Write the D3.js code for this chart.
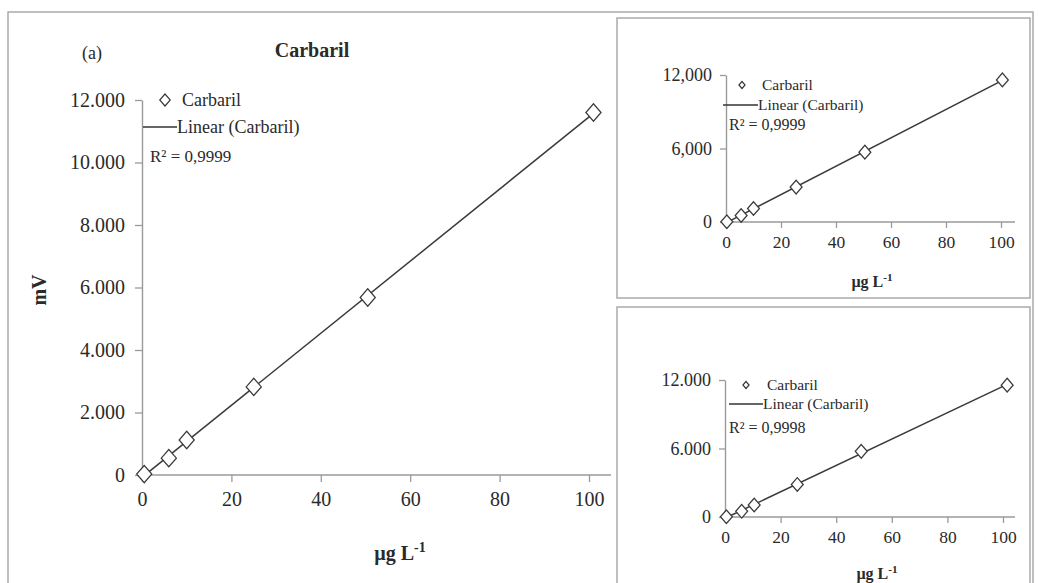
<!DOCTYPE html>
<html>
<head>
<meta charset="utf-8">
<script src="https://cdn.jsdelivr.net/npm/d3@7"></script>
<style>
  body { margin: 0; background: #fff; }
  svg text { font-family: "Liberation Serif", "Times New Roman", serif; fill: #2a2a2a; }
</style>
</head>
<body>
<script>
var width = 1038,
    height = 583;

// ===== data =====
var concA = [0.5, 6, 10, 25, 50.5, 101];
var mvA = [30, 540, 1120, 2820, 5680, 11600];

var concB = [0.3, 5.5, 10, 25.5, 50.5, 100.5];
var mvB = [20, 530, 1100, 2850, 5700, 11600];

var concC = [0.5, 6, 10.5, 26, 49, 101.5];
var mvC = [20, 500, 1050, 2850, 5750, 11550];

var xTicks = [0, 20, 40, 60, 80, 100];
var yTicksMain = [0, 2000, 4000, 6000, 8000, 10000, 12000];
var yTicksSmall = [0, 6000, 12000];
var r2Labels = ["R² = 0,9999", "R² = 0,9999", "R² = 0,9998"];

var svg = d3.select("body").append("svg")
    .attr("width", width)
    .attr("height", height)
    .attr("font-family", "Liberation Serif");

// frames
svg.append("rect").attr("x", 8).attr("y", 12).attr("width", 1025).attr("height", 580)
    .attr("fill", "none").attr("stroke", "#aaa").attr("stroke-width", 1.5);
svg.append("rect").attr("x", 617).attr("y", 18).attr("width", 413).attr("height", 280)
    .attr("fill", "none").attr("stroke", "#aaa").attr("stroke-width", 1.5);
svg.append("rect").attr("x", 617).attr("y", 307).attr("width", 413).attr("height", 285)
    .attr("fill", "none").attr("stroke", "#aaa").attr("stroke-width", 1.5);

function fit(xs, ys) {
  var mx = d3.mean(xs), my = d3.mean(ys);
  var sxy = d3.sum(xs, function(x, i) { return (x - mx) * (ys[i] - my); });
  var sxx = d3.sum(xs, function(x) { return (x - mx) * (x - mx); });
  var b = sxy / sxx;
  return { slope: b, icpt: my - b * mx };
}

function panel(o) {
  var x = d3.scaleLinear().domain([0, 100]).range([o.x0, o.x1]);
  var y = d3.scaleLinear().domain([0, 12000]).range([o.y0, o.y1]);
  var g = svg.append("g");

  var xAxis = g.append("g").attr("transform", "translate(0," + o.y0 + ")")
      .call(d3.axisBottom(x).tickValues(xTicks).tickSize(o.tick).tickPadding(o.pad).tickSizeOuter(0));
  xAxis.select(".domain").attr("d", "M" + o.x0 + ",0H" + o.xEnd);
  xAxis.selectAll(".tick text").style("font-size", o.xfs + "px");
  var yAxis = g.append("g").attr("transform", "translate(" + o.x0 + ",0)")
      .call(d3.axisLeft(y).tickValues(o.yTicks).tickSize(o.tick).tickPadding(o.pad).tickSizeOuter(0)
        .tickFormat(function(d) { return d === 0 ? "0" : d3.format(",")(d).replace(",", o.sep); }));
  yAxis.selectAll(".tick text").style("font-size", o.fs + "px");

  g.selectAll(".domain").attr("stroke", "#9a9a9a").attr("stroke-width", 1.4);
  g.selectAll(".tick line").attr("stroke", "#9a9a9a").attr("stroke-width", 1.3);
  g.selectAll(".tick text").style("font-family", "Liberation Serif").attr("fill", "#2a2a2a");

  var f = fit(o.xs, o.ys);
  g.append("line")
      .attr("x1", x(0)).attr("y1", y(f.icpt))
      .attr("x2", x(d3.max(o.xs))).attr("y2", y(f.icpt + f.slope * d3.max(o.xs)))
      .attr("stroke", "#3a3a3a").attr("stroke-width", 1.5);

  var sym = d3.symbol().type(d3.symbolDiamond2).size(o.dsize);
  g.selectAll(".pt").data(o.xs).join("path")
      .attr("transform", function(d, i) { return "translate(" + x(d) + "," + y(o.ys[i]) + ") scale(1,1.15)"; })
      .attr("d", sym).attr("fill", "#fff").attr("stroke", "#3a3a3a").attr("stroke-width", 1.2);

  // legend
  var L = o.leg;
  g.append("path").attr("transform", "translate(" + L.dx + "," + L.dy + ") scale(1,1.15)")
      .attr("d", d3.symbol().type(d3.symbolDiamond2).size(L.ds)).attr("fill", "#fff")
      .attr("stroke", "#333").attr("stroke-width", 1.1);
  g.append("text").attr("x", L.tx).attr("y", L.dy + L.fs * 0.33).style("font-size", L.fs + "px").text("Carbaril");
  g.append("line").attr("x1", L.lx0).attr("x2", L.lx1).attr("y1", L.ly).attr("y2", L.ly)
      .attr("stroke", "#333").attr("stroke-width", 1.7);
  g.append("text").attr("x", L.lx1).attr("y", L.ly + L.fs * 0.33).style("font-size", L.fs + "px").text("Linear (Carbaril)");
  g.append("text").attr("x", L.rx).attr("y", L.ry + L.rfs * 0.33).style("font-size", L.rfs + "px").text(o.r2);

  // x title
  var xt = g.append("text").attr("x", o.xtX).attr("y", o.xtY).attr("text-anchor", "middle")
      .style("font-size", o.tfs + "px").style("font-weight", "bold");
  xt.append("tspan").text("µg L");
  xt.append("tspan").attr("dy", -o.tfs * 0.4).style("font-size", (o.tfs * 0.7) + "px").text("-1");
}

panel({
  x0: 142, x1: 589, xEnd: 611, y0: 475, y1: 100, tick: 7, pad: 10, fs: 20, xfs: 20, yTicks: yTicksMain, sep: ".",
  xs: concA, ys: mvA, dsize: 145, r2: r2Labels[0],
  leg: { dx: 165, dy: 100, ds: 70, tx: 182, fs: 18, lx0: 143, lx1: 177, ly: 127, rx: 150, ry: 156, rfs: 17 },
  xtX: 400, xtY: 560, tfs: 20
});
panel({
  x0: 726, x1: 1001, xEnd: 1015, y0: 222, y1: 75, tick: 6, pad: 8, fs: 18, xfs: 17.5, yTicks: yTicksSmall, sep: ",",
  xs: concB, ys: mvB, dsize: 90, r2: r2Labels[1],
  leg: { dx: 742, dy: 85, ds: 24, tx: 762, fs: 15.5, lx0: 723, lx1: 758, ly: 105, rx: 729, ry: 125, rfs: 16 },
  xtX: 872, xtY: 287, tfs: 16
});
panel({
  x0: 725, x1: 1003, xEnd: 1015, y0: 517, y1: 380, tick: 6, pad: 8, fs: 18, xfs: 17.5, yTicks: yTicksSmall, sep: ".",
  xs: concC, ys: mvC, dsize: 90, r2: r2Labels[2],
  leg: { dx: 746, dy: 385, ds: 24, tx: 767, fs: 15.5, lx0: 729, lx1: 763, ly: 404, rx: 729, ry: 428, rfs: 16 },
  xtX: 877, xtY: 579, tfs: 16
});

// main titles
svg.append("text").attr("x", 92).attr("y", 59).attr("text-anchor", "middle")
    .style("font-size", "18px").text("(a)");
svg.append("text").attr("x", 312).attr("y", 57).attr("text-anchor", "middle")
    .style("font-size", "20px").style("font-weight", "bold").text("Carbaril");
svg.append("text").attr("transform", "translate(46,290) rotate(-90)").attr("text-anchor", "middle")
    .style("font-size", "20px").style("font-weight", "bold").text("mV");
</script>
</body>
</html>
